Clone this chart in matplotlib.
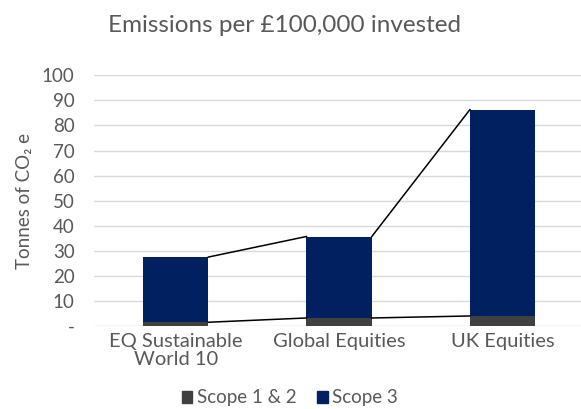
import matplotlib
matplotlib.use("Agg")
import matplotlib.pyplot as plt
from matplotlib.patches import Patch
import numpy as np

categories = ["EQ Sustainable\nWorld 10", "Global Equities", "UK Equities"]
scope12 = [1.5, 3.2, 4.0]
scope3 = [26.0, 32.5, 82.3]
yticks = [0, 10, 20, 30, 40, 50, 60, 70, 80, 90, 100]
yticklabels = ["-", "10", "20", "30", "40", "50", "60", "70", "80", "90", "100"]

plt.rcParams['font.family'] = ['Lato', 'DejaVu Sans']
txt = '#595959'

fig = plt.figure(figsize=(5.81, 4.09), dpi=100)
ax = fig.add_axes([94/581, 1 - 326/409, 1 - 94/581, (326 - 75.3)/409])

x = np.arange(len(categories))
w = 0.4
c12 = '#404040'
c3 = '#002060'
ax.bar(x, scope12, w, color=c12, zorder=3)
ax.bar(x, scope3, w, bottom=scope12, color=c3, zorder=3)

tot = np.array(scope12) + np.array(scope3)
for i in range(len(x) - 1):
    ax.plot([x[i] + w/2, x[i+1] - w/2], [scope12[i], scope12[i+1]], color='black', lw=1.1, zorder=4)
    ax.plot([x[i] + w/2, x[i+1] - w/2], [tot[i], tot[i+1]], color='black', lw=1.1, zorder=4)

ax.set_xlim(-0.5, 2.48)
ax.set_ylim(0, 100)
ax.set_yticks(yticks)
ax.set_yticklabels(yticklabels, color=txt, fontsize=13.5)
ax.set_xticks(x)
ax.set_xticklabels(categories, color=txt, fontsize=14.5, linespacing=1.05)
ax.yaxis.grid(True, color='#d9d9d9', lw=1, zorder=0)
ax.tick_params(axis='both', length=0)
ax.tick_params(axis='y', pad=14)
ax.tick_params(axis='x', pad=5)
for s in ax.spines.values():
    s.set_visible(False)

ax.set_ylabel("Tonnes of CO\u2082 e", color=txt, fontsize=13.5, labelpad=6)

fig.text(285/581, 1 - 25/409, "Emissions per £100,000 invested", ha='center', va='center',
         color=txt, fontsize=17.5)

handles = [Patch(color=c12, label='Scope 1 & 2'), Patch(color=c3, label='Scope 3')]
fig.legend(handles=handles, loc='center', bbox_to_anchor=(290/581, 1 - 398/409), ncol=2,
           frameon=False, labelcolor=txt, handlelength=0.55, handleheight=0.55,
           handletextpad=0.25, columnspacing=1.1, prop={'size': 13.5},
           borderpad=0.0)

fig.savefig("out.png", dpi=100)
